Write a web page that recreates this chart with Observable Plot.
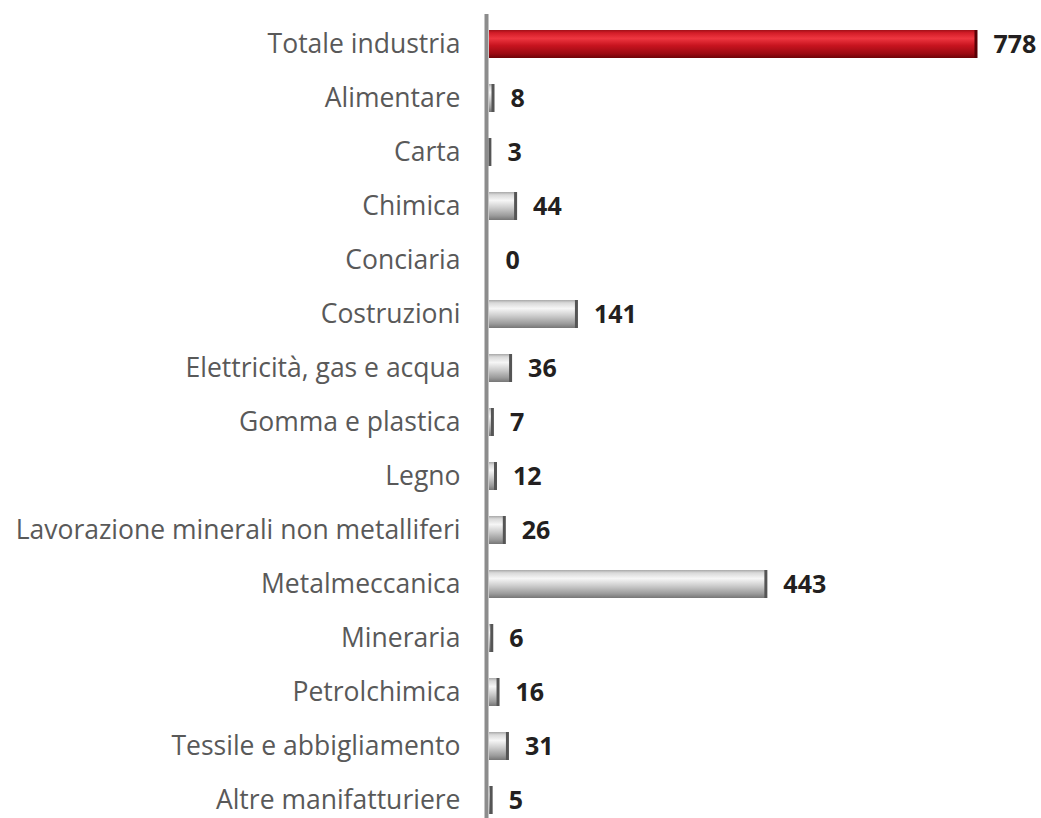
<!DOCTYPE html>
<html><head><meta charset="utf-8">
<script src="https://cdn.jsdelivr.net/npm/d3@7"></script>
<script src="https://cdn.jsdelivr.net/npm/@observablehq/plot@0.6"></script>
<style>body{margin:0;background:#fff;font-family:"Open Sans",sans-serif}</style>
</head><body><div id="chart"></div>
<script>
const categories = ["Totale industria","Alimentare","Carta","Chimica","Conciaria","Costruzioni","Elettricità, gas e acqua","Gomma e plastica","Legno","Lavorazione minerali non metalliferi","Metalmeccanica","Mineraria","Petrolchimica","Tessile e abbigliamento","Altre manifatturiere"];
const values = [778,8,3,44,0,141,36,7,12,26,443,6,16,31,5];
const data = categories.map((c,i)=>({cat:c, v:values[i], total:i===0}));

const defs = () => {
  const s = d3.create("svg:defs");
  const g1 = s.append("linearGradient").attr("id","gGray").attr("x1",0).attr("y1",0).attr("x2",0).attr("y2",1);
  [[0,"#a8a8a8"],[0.1,"#d8d8d8"],[0.3,"#f6f6f6"],[0.55,"#cfcfcf"],[0.85,"#9a9a9a"],[1,"#767676"]].forEach(([o,c])=>g1.append("stop").attr("offset",o).attr("stop-color",c));
  const g2 = s.append("linearGradient").attr("id","gRed").attr("x1",0).attr("y1",0).attr("x2",0).attr("y2",1);
  [[0,"#a01018"],[0.1,"#d21c27"],[0.3,"#ee3640"],[0.55,"#c8141f"],[0.85,"#9a0a12"],[1,"#6e0308"]].forEach(([o,c])=>g2.append("stop").attr("offset",o).attr("stop-color",c));
  return s.node();
};

const chart = Plot.plot({
  width: 1041, height: 818,
  marginLeft: 489, marginRight: 64, marginTop: 14, marginBottom: 0,
  style: {fontFamily: "Open Sans, sans-serif", background: "#fff"},
  x: {domain: [0, 778], axis: null},
  y: {domain: categories, range: [17, 827], paddingInner: 0.48, paddingOuter: 0.24, label: null},
  marks: [
    defs,
    Plot.barX(data, {y: "cat", x: "v", fill: d => d.total ? "url(#gRed)" : "url(#gGray)"}),
    Plot.tickX(data.filter(d=>d.v>0), {y: "cat", x: "v", dx: -1.5, stroke: d => d.total ? "#5a0005" : "#555", strokeWidth: 3}),
    Plot.ruleX([0], {stroke: "#8c8c8c", strokeWidth: 4, dx: -3}),
    Plot.axisY({tickSize: 0, tickPadding: 29, fontSize: 26.5, fill: "#595959", label: null}),
    Plot.text(data, {y: "cat", x: "v", text: d => String(d.v), dx: 16, textAnchor: "start", fontSize: 25, fontWeight: "bold", fill: "#231f20"})
  ]
});
document.getElementById("chart").appendChild(chart);
</script></body></html>
